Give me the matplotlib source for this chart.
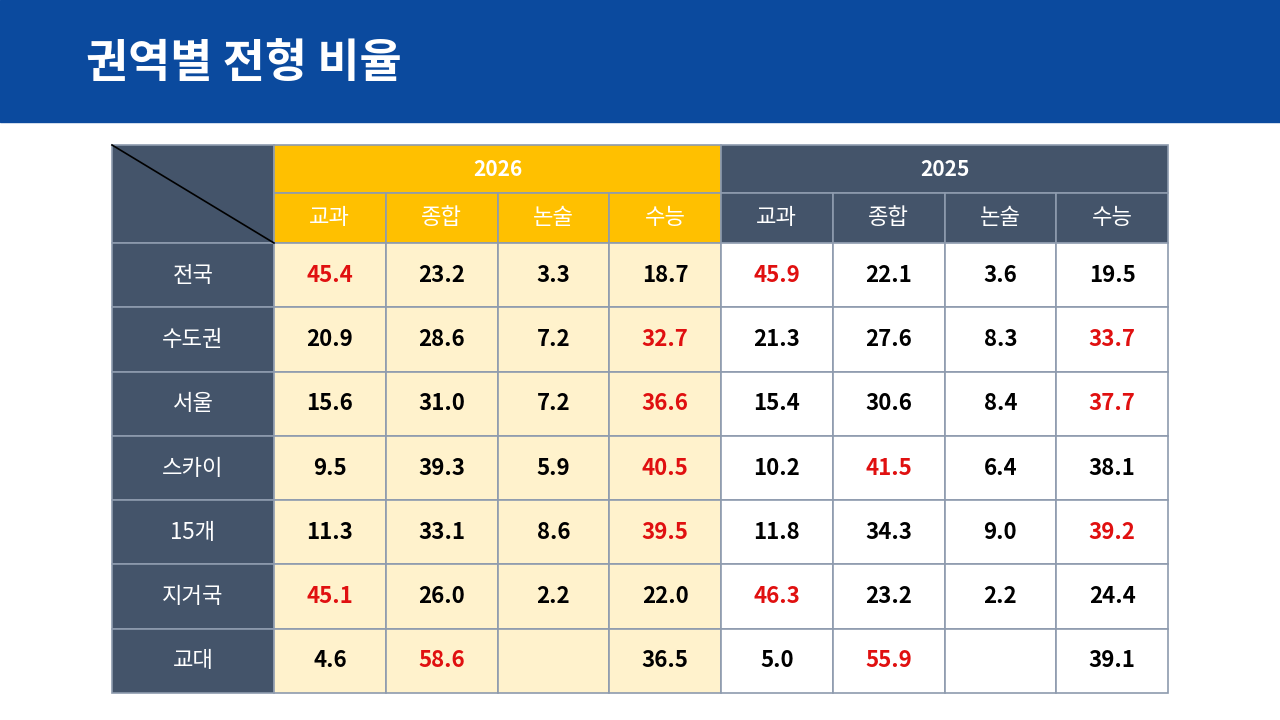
import matplotlib
matplotlib.use("Agg")
import matplotlib.pyplot as plt
from matplotlib.patches import Rectangle

title = "권역별 전형 비율"
years = ["2026", "2025"]
types = ["교과", "종합", "논술", "수능"]
regions = ["전국", "수도권", "서울", "스카이", "15개", "지거국", "교대"]
v2026 = [[45.4, 23.2, 3.3, 18.7], [20.9, 28.6, 7.2, 32.7], [15.6, 31.0, 7.2, 36.6],
         [9.5, 39.3, 5.9, 40.5], [11.3, 33.1, 8.6, 39.5], [45.1, 26.0, 2.2, 22.0],
         [4.6, 58.6, None, 36.5]]
v2025 = [[45.9, 22.1, 3.6, 19.5], [21.3, 27.6, 8.3, 33.7], [15.4, 30.6, 8.4, 37.7],
         [10.2, 41.5, 6.4, 38.1], [11.8, 34.3, 9.0, 39.2], [46.3, 23.2, 2.2, 24.4],
         [5.0, 55.9, None, 39.1]]

FONT = "Noto Sans CJK KR"
NAVY = "#0B4A9E"; SLATE = "#44546A"; GOLD = "#FFC000"; CREAM = "#FFF2CC"
RED = "#E01010"; GRID = "#8E9BAE"

fig = plt.figure(figsize=(12.8, 7.2), dpi=100)
ax = fig.add_axes([0, 0, 1, 1])
ax.set_xlim(0, 1280); ax.set_ylim(720, 0); ax.axis("off")

ax.add_patch(Rectangle((0, 0), 1280, 122, color=NAVY, zorder=0))
ax.text(86, 64, title, color="white", fontsize=33, fontweight="bold",
        family=FONT, va="center", ha="left")

x0, xl, xr = 112, 274, 1168
cw = (xr - xl) / 8
y0, y1, y2, yb = 145, 193, 243, 693
rh = (yb - y2) / len(regions)

def cell(x, y, w, h, fc):
    ax.add_patch(Rectangle((x, y), w, h, facecolor=fc, edgecolor=GRID, lw=1.2))

# corner
cell(x0, y0, xl - x0, y2 - y0, SLATE)
ax.plot([x0, xl], [y0, y2], color="black", lw=1.2)

for yi, yr in enumerate(years):
    fc = GOLD if yi == 0 else SLATE
    cell(xl + yi * 4 * cw, y0, 4 * cw, y1 - y0, fc)
    ax.text(xl + yi * 4 * cw + 2 * cw, (y0 + y1) / 2, yr, color="white", fontsize=15,
            fontweight="bold", family=FONT, ha="center", va="center")
    for ti, t in enumerate(types):
        x = xl + (yi * 4 + ti) * cw
        cell(x, y1, cw, y2 - y1, fc)
        ax.text(x + cw / 2, (y1 + y2) / 2, t, color="white", fontsize=16,
                family=FONT, ha="center", va="center")

for ri, reg in enumerate(regions):
    y = y2 + ri * rh
    cell(x0, y, xl - x0, rh, SLATE)
    ax.text((x0 + xl) / 2, y + rh / 2, reg, color="white", fontsize=16,
            family=FONT, ha="center", va="center")
    for yi, data in enumerate([v2026, v2025]):
        row = data[ri]
        mx = max(v for v in row if v is not None)
        for ti, v in enumerate(row):
            x = xl + (yi * 4 + ti) * cw
            cell(x, y, cw, rh, CREAM if yi == 0 else "white")
            if v is not None:
                ax.text(x + cw / 2, y + rh / 2, f"{v:.1f}",
                        color=RED if v == mx else "black", fontsize=16,
                        fontweight="bold", family=FONT, ha="center", va="center")

fig.savefig("out.png", dpi=100)
